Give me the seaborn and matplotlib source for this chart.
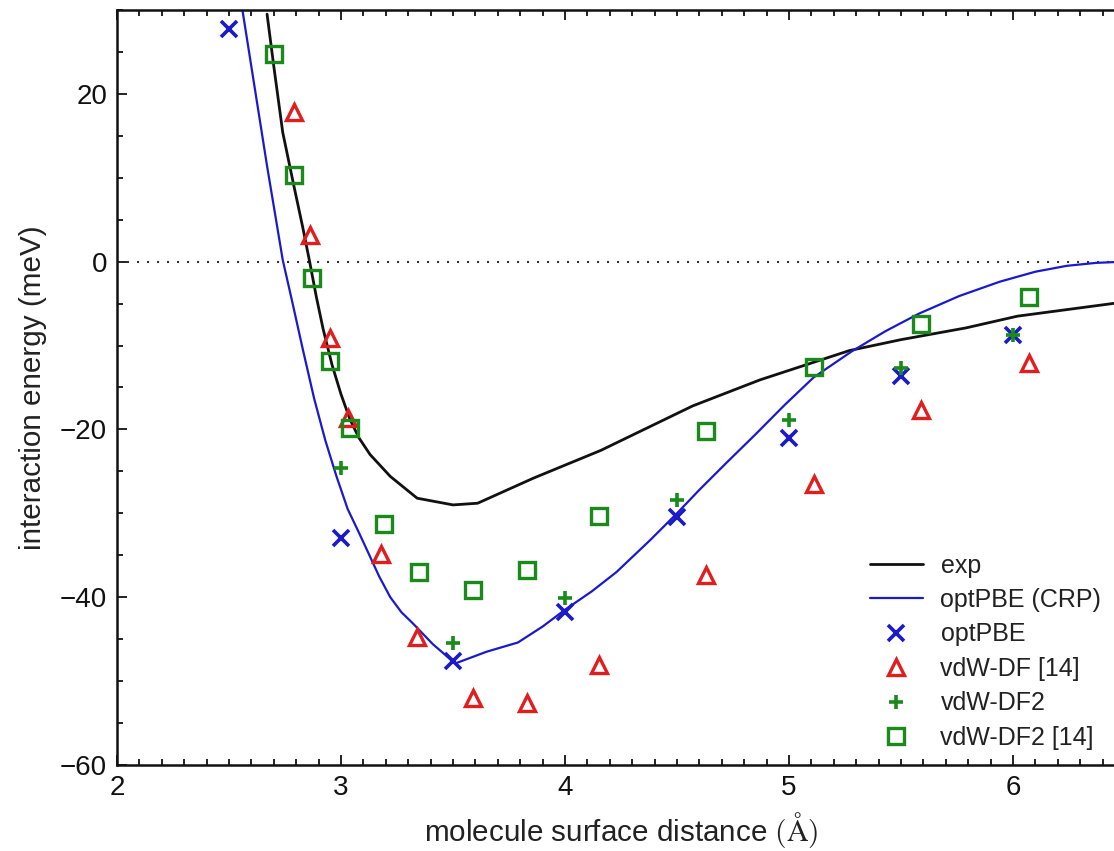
import numpy as np
import pandas as pd
import matplotlib
matplotlib.use("Agg")
import matplotlib.pyplot as plt
from matplotlib.ticker import MultipleLocator
from matplotlib.lines import Line2D
import seaborn as sns

# ---------------- data ----------------
exp_x = [2.67, 2.70, 2.74, 2.79, 2.83, 2.86, 2.89, 2.92, 2.96, 3.00, 3.04, 3.08, 3.13, 3.22, 3.34, 3.50, 3.61,
         3.86, 4.16, 4.57, 4.87, 5.27, 5.50, 5.79, 6.02, 6.50]
exp_y = [29.5, 23.3, 15.4, 9.0, 4.0, 0.0, -4.2, -8.0, -12.3, -15.8, -18.8, -21.0, -23.0, -25.6, -28.2, -29.0, -28.8,
         -25.8, -22.5, -17.2, -14.1, -10.6, -9.3, -7.9, -6.5, -4.8]

crp_x = [2.56, 2.67, 2.74, 2.78, 2.83, 2.88, 2.93, 2.98, 3.03, 3.08, 3.12, 3.17, 3.22, 3.27, 3.32,
         3.41, 3.51, 3.58, 3.65, 3.79, 3.90, 4.00, 4.12, 4.23, 4.38, 4.50, 4.60, 4.72, 4.85,
         4.98, 5.11, 5.28, 5.43, 5.58, 5.76, 5.94, 6.10, 6.24, 6.37, 6.50]
crp_y = [30.0, 11.4, 0.2, -4.5, -10.5, -16.3, -21.3, -25.6, -29.5, -32.3, -34.6, -37.5, -40.0, -41.8, -43.1,
         -45.6, -47.9, -47.2, -46.5, -45.4, -43.5, -41.5, -39.3, -37.0, -33.2, -30.0, -27.2, -24.0, -20.6,
         -17.1, -13.8, -10.7, -8.3, -6.2, -4.1, -2.4, -1.2, -0.5, -0.15, 0.0]

opt_x = [2.5, 3.0, 3.5, 4.0, 4.5, 5.0, 5.5, 6.0]
opt_y = [27.7, -32.9, -47.6, -41.8, -30.5, -21.0, -13.6, -8.7]

df_x = [2.79, 2.86, 2.95, 3.03, 3.18, 3.34, 3.59, 3.83, 4.15, 4.63, 5.11, 5.59, 6.07]
df_y = [17.8, 3.2, -9.1, -18.6, -34.9, -44.8, -52.0, -52.6, -48.1, -37.3, -26.5, -17.7, -12.1]

df2_x = [3.0, 3.5, 4.0, 4.5, 5.0, 5.5, 6.0]
df2_y = [-24.6, -45.5, -40.1, -28.4, -18.9, -12.7, -8.7]

df2r_x = [2.70, 2.79, 2.87, 2.95, 3.04, 3.19, 3.35, 3.59, 3.83, 4.15, 4.63, 5.11, 5.59, 6.07]
df2r_y = [24.7, 10.3, -1.9, -11.9, -19.8, -31.3, -37.0, -39.2, -36.7, -30.3, -20.2, -12.6, -7.4, -4.2]

labels = ["exp", "optPBE (CRP)", "optPBE", "vdW-DF [14]", "vdW-DF2", "vdW-DF2 [14]"]

# ---------------- style ----------------
sns.set_theme(style="ticks")
plt.rcParams["font.family"] = ["Liberation Sans", "DejaVu Sans"]
plt.rcParams["mathtext.fontset"] = "cm"
plt.rcParams["axes.linewidth"] = 1.8

BLUE = "#1a1acc"
RED = "#e01e1e"
GREEN = "#1a8a1a"
BLACK = "#111111"

fig = plt.figure(figsize=(11.14, 8.51), dpi=100)
ax = fig.add_axes([0.1050, 0.1011, 0.9049, 0.8872])

ax.axhline(0, color="#333333", lw=1.5, linestyle=(0, (1, 3.8)), zorder=1)

sns.lineplot(x=exp_x, y=exp_y, ax=ax, color=BLACK, lw=2.0, sort=False, estimator=None)
sns.lineplot(x=crp_x, y=crp_y, ax=ax, color=BLUE, lw=1.6, sort=False, estimator=None)

mk = dict(sort=False, estimator=None, linestyle="none")
sns.lineplot(x=opt_x, y=opt_y, ax=ax, marker="x", markersize=11, markeredgewidth=2.6,
             color=BLUE, markeredgecolor=BLUE, **mk)
sns.lineplot(x=df_x, y=df_y, ax=ax, marker="^", markersize=12, markeredgewidth=2.4,
             markerfacecolor="none", markeredgecolor=RED, color=RED, **mk)
sns.lineplot(x=df2_x, y=df2_y, ax=ax, marker="+", markersize=10, markeredgewidth=2.6,
             color=GREEN, markeredgecolor=GREEN, **mk)
sns.lineplot(x=df2r_x, y=df2r_y, ax=ax, marker="s", markersize=11, markeredgewidth=2.4,
             markerfacecolor="none", markeredgecolor=GREEN, color=GREEN, **mk)

ax.set_xlim(2, 6.5)
ax.set_ylim(-60, 30)
ax.xaxis.set_major_locator(MultipleLocator(1))
ax.xaxis.set_minor_locator(MultipleLocator(0.1))
ax.yaxis.set_major_locator(MultipleLocator(20))
ax.yaxis.set_minor_locator(MultipleLocator(5))
ax.tick_params(which="both", direction="in", top=True, right=True, width=1.3, colors="#111111")
ax.tick_params(which="major", length=7.5, labelsize=20, pad=7)
ax.tick_params(which="minor", length=4)
for s in ax.spines.values():
    s.set_color("#111111")

ax.set_xlabel(r"molecule surface distance $(\mathrm{\AA})$", fontsize=21.3, color="#222222", labelpad=7)
ax.set_ylabel("interaction energy (meV)", fontsize=21.3, color="#222222", labelpad=9)

handles = [
    Line2D([], [], color=BLACK, lw=2.0),
    Line2D([], [], color=BLUE, lw=1.6),
    Line2D([], [], color=BLUE, ls="none", marker="x", ms=11, mew=2.6),
    Line2D([], [], color=RED, ls="none", marker="^", ms=12, mew=2.4, mfc="none"),
    Line2D([], [], color=GREEN, ls="none", marker="+", ms=10, mew=2.6),
    Line2D([], [], color=GREEN, ls="none", marker="s", ms=11, mew=2.4, mfc="none"),
]
leg = ax.legend(handles, labels, loc="lower left", bbox_to_anchor=(870 / 1114, 101 / 851),
                bbox_transform=fig.transFigure, frameon=False, fontsize=18,
                handlelength=2.1, handletextpad=0.72, labelspacing=0.42, borderpad=0,
                borderaxespad=0)
for t in leg.get_texts():
    t.set_color("#222222")

fig.savefig("out.png", dpi=100)
